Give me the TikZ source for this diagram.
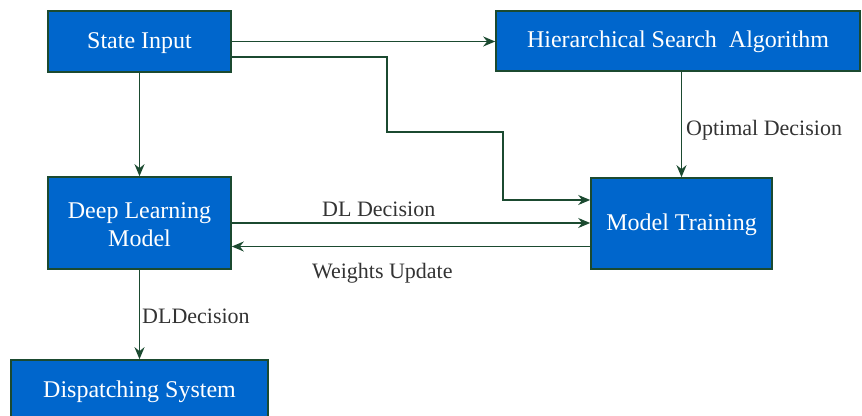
\documentclass[tikz,border=0pt]{standalone}
\usepackage{fontspec}
\setmainfont{Liberation Serif}
\newfontfamily\diagfont{Liberation Serif}
\usetikzlibrary{arrows.meta}
\definecolor{boxblue}{HTML}{0066CC}
\definecolor{linegreen}{HTML}{1B4A30}
\tikzset{
	block/.style={draw=linegreen, thick, rectangle, fill=boxblue, text=white, align=center,
		font=\diagfont\fontsize{12}{14}\selectfont, inner sep=0pt, text height=.66em, text depth=0pt},
	flow/.style={draw=linegreen, line width=0.7pt, -{Stealth[length=6pt,width=5pt]}},
	lbl/.style={font=\diagfont\fontsize{11}{13}\selectfont, text=black!80, inner sep=2pt}
}

\begin{document}
\begin{tikzpicture}[x=0.5pt, y=-0.5pt]
\useasboundingbox (0,0) rectangle (862,416);
% boxes
\node [block, minimum width=91.5pt, minimum height=30.5pt] (si) at (139.5,41.5) {State Input};
\node [block, minimum width=182pt, minimum height=30pt] (hsa) at (678,41) {Hierarchical Search\ \ Algorithm};
\node [block, minimum width=91.5pt, minimum height=46pt, text height=24pt] (dl) at (139.5,223) {Deep Learning\\Model};
\node [block, minimum width=90.5pt, minimum height=45.5pt] (mt) at (681.5,223.5) {Model Training};
\node [block, minimum width=128.5pt, minimum height=31pt] (ds) at (139.5,391) {Dispatching System};
% bends
\coordinate (bend1) at (387,132);
\coordinate (bend2) at (503,132);
% arrows
\draw [flow] (si.east) -- (si.east -| hsa.west);
\draw [flow] ([yshift=-7.75pt]si.east) -| (bend1) -- (bend2) |- ([yshift=11.75pt]mt.west);
\draw [flow] (si) -- (dl);
\draw [flow] (hsa.south -| mt.north) -- (mt.north) node [lbl, pos=.55, right] {Optimal Decision};
\draw [flow] (dl.east) -- (dl.east -| mt.west) node [lbl, pos=.41, above=1pt] {DL Decision};
\draw [flow] ([yshift=-11.5pt]mt.west) -- ([yshift=-11.5pt]mt.west -| dl.east) node [lbl, pos=.58, below=6pt] {Weights Update};
\draw [flow] (dl) -- (ds) node [lbl, pos=.52, right, inner sep=1pt] {DLDecision};
\end{tikzpicture}
\end{document}
